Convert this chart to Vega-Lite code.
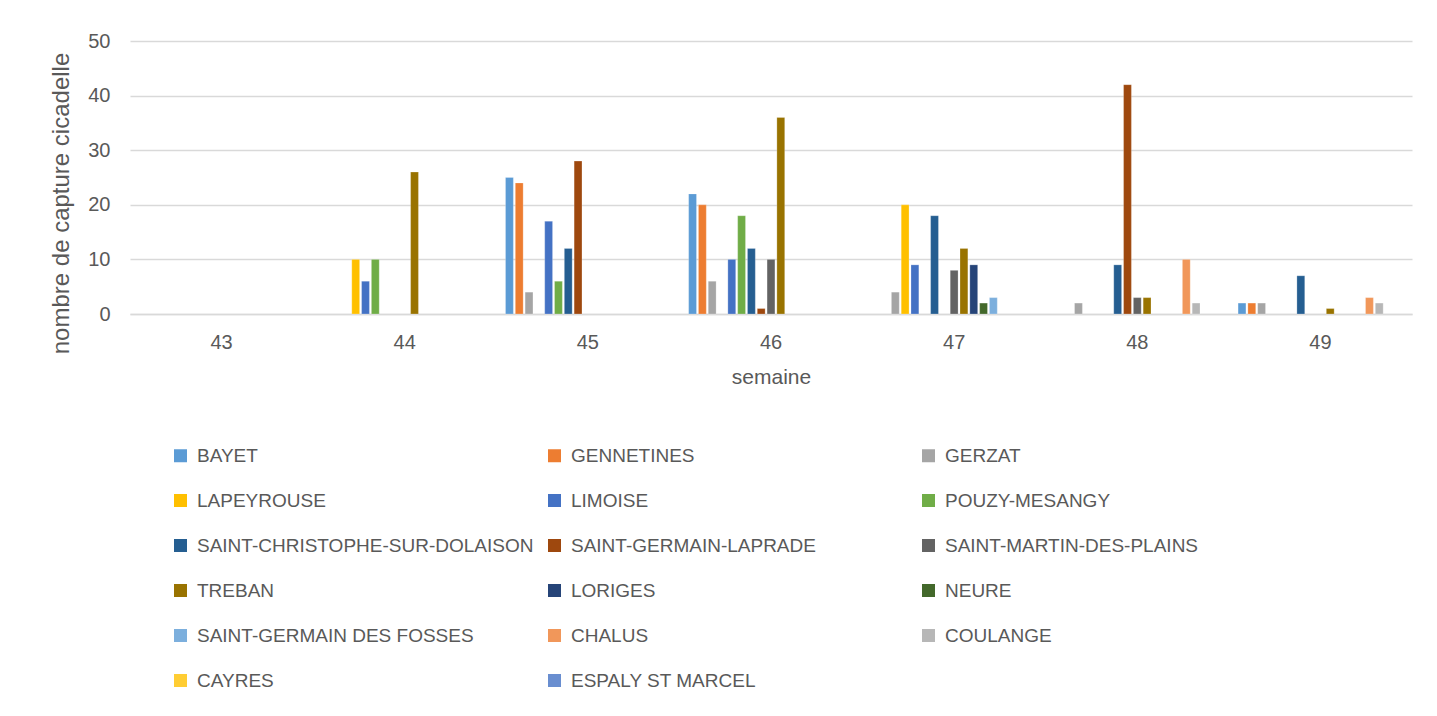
{
  "$schema": "https://vega.github.io/schema/vega-lite/v6.json",
  "autosize": {"type": "none"},
  "width": 1282,
  "height": 273,
  "padding": {"left": 130, "top": 41, "right": 25, "bottom": 402},
  "background": "white",
  "config": {
    "font": "Liberation Sans",
    "view": {"stroke": null}
  },
  "data": {
    "values": [
      {"semaine": "44", "site": "LAPEYROUSE", "captures": 10},
      {"semaine": "44", "site": "LIMOISE", "captures": 6},
      {"semaine": "44", "site": "POUZY-MESANGY", "captures": 10},
      {"semaine": "44", "site": "TREBAN", "captures": 26},
      {"semaine": "45", "site": "BAYET", "captures": 25},
      {"semaine": "45", "site": "GENNETINES", "captures": 24},
      {"semaine": "45", "site": "GERZAT", "captures": 4},
      {"semaine": "45", "site": "LIMOISE", "captures": 17},
      {"semaine": "45", "site": "POUZY-MESANGY", "captures": 6},
      {"semaine": "45", "site": "SAINT-CHRISTOPHE-SUR-DOLAISON", "captures": 12},
      {"semaine": "45", "site": "SAINT-GERMAIN-LAPRADE", "captures": 28},
      {"semaine": "46", "site": "BAYET", "captures": 22},
      {"semaine": "46", "site": "GENNETINES", "captures": 20},
      {"semaine": "46", "site": "GERZAT", "captures": 6},
      {"semaine": "46", "site": "LIMOISE", "captures": 10},
      {"semaine": "46", "site": "POUZY-MESANGY", "captures": 18},
      {"semaine": "46", "site": "SAINT-CHRISTOPHE-SUR-DOLAISON", "captures": 12},
      {"semaine": "46", "site": "SAINT-GERMAIN-LAPRADE", "captures": 1},
      {"semaine": "46", "site": "SAINT-MARTIN-DES-PLAINS", "captures": 10},
      {"semaine": "46", "site": "TREBAN", "captures": 36},
      {"semaine": "47", "site": "GERZAT", "captures": 4},
      {"semaine": "47", "site": "LAPEYROUSE", "captures": 20},
      {"semaine": "47", "site": "LIMOISE", "captures": 9},
      {"semaine": "47", "site": "SAINT-CHRISTOPHE-SUR-DOLAISON", "captures": 18},
      {"semaine": "47", "site": "SAINT-MARTIN-DES-PLAINS", "captures": 8},
      {"semaine": "47", "site": "TREBAN", "captures": 12},
      {"semaine": "47", "site": "LORIGES", "captures": 9},
      {"semaine": "47", "site": "NEURE", "captures": 2},
      {"semaine": "47", "site": "SAINT-GERMAIN DES FOSSES", "captures": 3},
      {"semaine": "48", "site": "GERZAT", "captures": 2},
      {"semaine": "48", "site": "SAINT-CHRISTOPHE-SUR-DOLAISON", "captures": 9},
      {"semaine": "48", "site": "SAINT-GERMAIN-LAPRADE", "captures": 42},
      {"semaine": "48", "site": "SAINT-MARTIN-DES-PLAINS", "captures": 3},
      {"semaine": "48", "site": "TREBAN", "captures": 3},
      {"semaine": "48", "site": "CHALUS", "captures": 10},
      {"semaine": "48", "site": "COULANGE", "captures": 2},
      {"semaine": "49", "site": "BAYET", "captures": 2},
      {"semaine": "49", "site": "GENNETINES", "captures": 2},
      {"semaine": "49", "site": "GERZAT", "captures": 2},
      {"semaine": "49", "site": "SAINT-CHRISTOPHE-SUR-DOLAISON", "captures": 7},
      {"semaine": "49", "site": "TREBAN", "captures": 1},
      {"semaine": "49", "site": "CHALUS", "captures": 3},
      {"semaine": "49", "site": "COULANGE", "captures": 2}
    ]
  },
  "mark": {"type": "bar", "stroke": "white", "strokeWidth": 0.4, "strokeOpacity": 0.6},
  "encoding": {
    "x": {
      "field": "semaine",
      "type": "nominal",
      "scale": {"domain": ["43", "44", "45", "46", "47", "48", "49"], "paddingInner": 0.09, "paddingOuter": 0.045},
      "axis": {
        "title": "semaine",
        "labelAngle": 0,
        "labelFontSize": 20,
        "labelColor": "#595959",
        "labelPadding": 18,
        "ticks": false,
        "tickSize": 0,
        "domain": true,
        "domainColor": "#D9D9D9",
        "domainWidth": 1.5,
        "titleFontSize": 21,
        "titleFontWeight": "normal",
        "titleColor": "#595959",
        "titlePadding": 14
      }
    },
    "xOffset": {
      "field": "site",
      "type": "nominal",
      "scale": {
        "domain": ["BAYET", "GENNETINES", "GERZAT", "LAPEYROUSE", "LIMOISE", "POUZY-MESANGY", "SAINT-CHRISTOPHE-SUR-DOLAISON", "SAINT-GERMAIN-LAPRADE", "SAINT-MARTIN-DES-PLAINS", "TREBAN", "LORIGES", "NEURE", "SAINT-GERMAIN DES FOSSES", "CHALUS", "COULANGE", "CAYRES", "ESPALY ST MARCEL"],
        "paddingInner": 0.2,
        "paddingOuter": 0.1
      }
    },
    "y": {
      "field": "captures",
      "type": "quantitative",
      "scale": {"domain": [0, 50], "nice": false},
      "axis": {
        "title": "nombre de capture cicadelle",
        "values": [0, 10, 20, 30, 40, 50],
        "labelFontSize": 20,
        "labelColor": "#595959",
        "labelPadding": 20,
        "ticks": false,
        "tickSize": 0,
        "domain": false,
        "grid": true,
        "gridColor": "#D9D9D9",
        "gridWidth": 1.5,
        "titleFontSize": 24,
        "titleFontWeight": "normal",
        "titleColor": "#595959",
        "titleAngle": -90,
        "titleAlign": "center",
        "titleBaseline": "middle",
        "titleX": -69,
        "titleY": 162
      }
    },
    "color": {
      "field": "site",
      "type": "nominal",
      "scale": {
        "domain": ["BAYET", "GENNETINES", "GERZAT", "LAPEYROUSE", "LIMOISE", "POUZY-MESANGY", "SAINT-CHRISTOPHE-SUR-DOLAISON", "SAINT-GERMAIN-LAPRADE", "SAINT-MARTIN-DES-PLAINS", "TREBAN", "LORIGES", "NEURE", "SAINT-GERMAIN DES FOSSES", "CHALUS", "COULANGE", "CAYRES", "ESPALY ST MARCEL"],
        "range": ["#5B9BD5", "#ED7D31", "#A5A5A5", "#FFC000", "#4472C4", "#70AD47", "#255E91", "#9E480E", "#636363", "#997300", "#264478", "#43682B", "#7CAFDD", "#F1975A", "#B7B7B7", "#FFCD33", "#698ED0"]
      },
      "legend": {
        "title": null,
        "orient": "none",
        "direction": "horizontal",
        "legendX": 41,
        "legendY": 405,
        "columns": 3,
        "gridAlign": "all",
        "columnPadding": 11,
        "rowPadding": 25,
        "padding": 0,
        "symbolType": "square",
        "symbolSize": 169,
        "symbolStrokeWidth": 0,
        "symbolOpacity": 1,
        "labelFontSize": 19,
        "labelColor": "#595959",
        "labelOffset": 7,
        "labelLimit": 500
      }
    }
  }
}
